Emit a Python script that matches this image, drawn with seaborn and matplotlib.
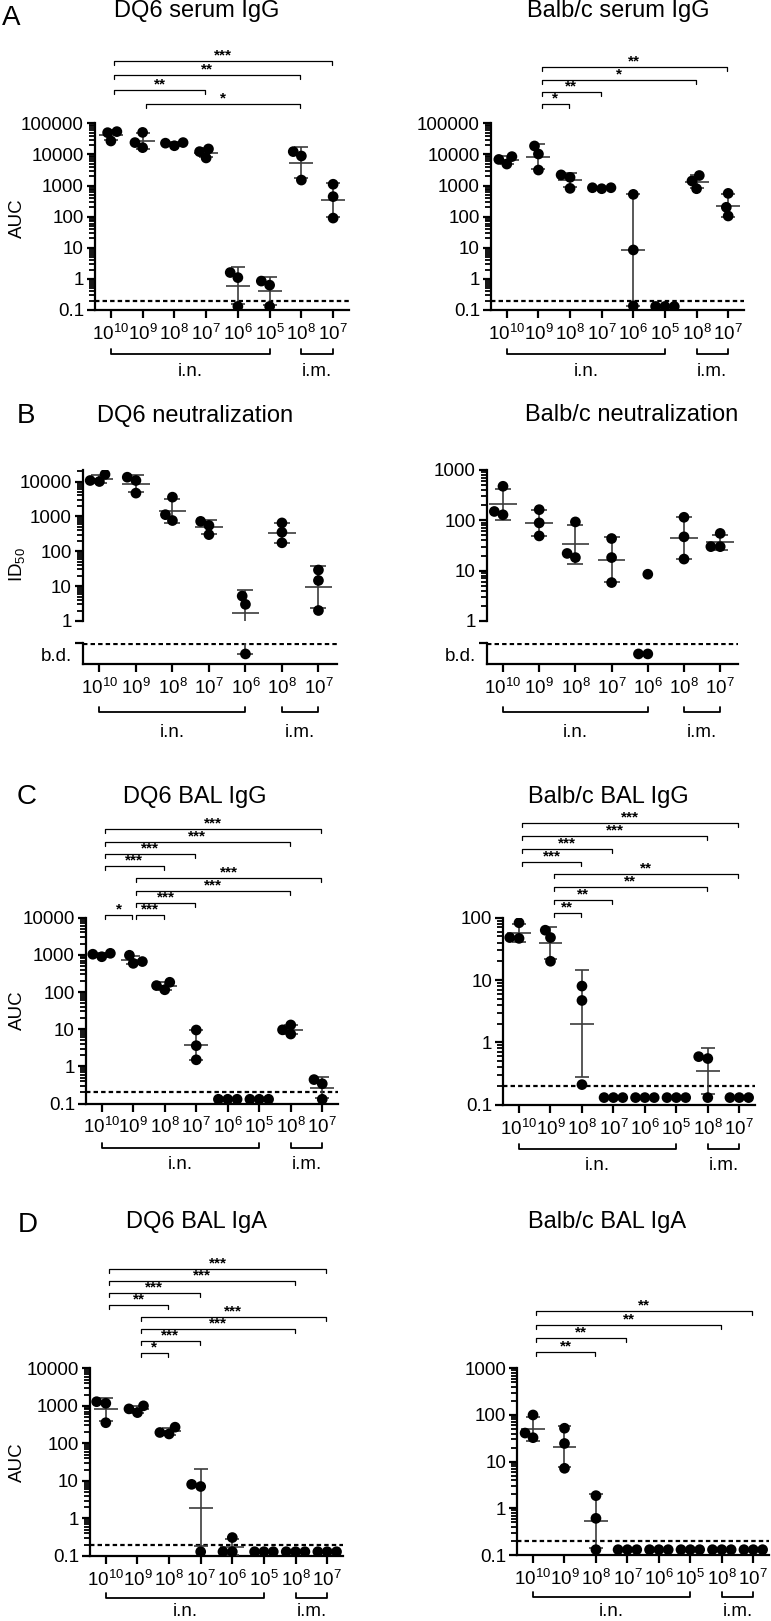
# %%
# ===  Load modules ===
import numpy as np
import pandas as pd
import seaborn as sns
import matplotlib
matplotlib.use('Agg')
import matplotlib.pyplot as plt
import matplotlib.patheffects as pe
from matplotlib import transforms as mtrans
from matplotlib.ticker import FixedLocator, FixedFormatter, LogLocator, NullFormatter

# %%
# ===  Data ===
DOSES_8 = [r'$10^{10}$', r'$10^{9}$', r'$10^{8}$', r'$10^{7}$', r'$10^{6}$', r'$10^{5}$', r'$10^{8}$', r'$10^{7}$']
DOSES_7 = [r'$10^{10}$', r'$10^{9}$', r'$10^{8}$', r'$10^{7}$', r'$10^{6}$', r'$10^{8}$', r'$10^{7}$']
ROUTES_8 = [('i.n.', 0, 5), ('i.m.', 6, 7)]
ROUTES_7 = [('i.n.', 0, 4), ('i.m.', 5, 6)]
LOD = 0.2

# serum IgG (AUC)
A_DQ6 = [[54000, 27000, 50000], [16500, 51000, 24000], [19000, 24000, 23000], [15000, 7700, 12300],
         [1.6, 1.1, 0.13], [0.85, 0.63, 0.13], [12300, 8900, 1500], [1100, 440, 90]]
A_BALB = [[4900, 8500, 6900], [18700, 10300, 3150], [2200, 810, 1830], [790, 850, 850],
          [520, 8.5, 0.135], [0.13, 0.13, 0.13], [2100, 790, 1400], [560, 200, 105]]
# neutralization (ID50), values < 1 are below detection, 0 = not detected
B_DQ6 = [[10000, 16000, 10700], [13300, 4650, 10700], [760, 3560, 1120], [720, 300, 550],
         [5.2, 3.0, 0.3], [650, 350, 175], [29, 14.5, 2.0]]
B_BALB = [[129, 475, 150], [163, 89, 49], [18.2, 93, 22], [43.5, 18.2, 5.8],
          [8.5, 0, 0], [115, 47, 17], [30, 55, 30]]
# BAL IgG (AUC)
C_DQ6 = [[890, 1100, 1040], [975, 590, 660], [115, 183, 149], [9.5, 3.6, 1.5],
         [0.13, 0.13, 0.13], [0.13, 0.13, 0.13], [13, 7.4, 9.6], [0.44, 0.34, 0.13]]
C_BALB = [[46.6, 83, 48], [63, 20, 48], [8, 4.7, 0.21], [0.13, 0.13, 0.13],
          [0.13, 0.13, 0.13], [0.13, 0.13, 0.13], [0.59, 0.55, 0.13], [0.13, 0.13, 0.13]]
# BAL IgA (AUC)
D_DQ6 = [[1290, 355, 1170], [660, 1000, 830], [178, 270, 195], [8.1, 7.1, 0.13],
         [0.31, 0.13, 0.13], [0.13, 0.13, 0.13], [0.13, 0.13, 0.13], [0.13, 0.13, 0.13]]
D_BALB = [[32.6, 100, 41], [52, 24.5, 7.2], [1.87, 0.61, 0.13], [0.13, 0.13, 0.13],
          [0.13, 0.13, 0.13], [0.13, 0.13, 0.13], [0.13, 0.13, 0.13], [0.13, 0.13, 0.13]]

# significance comparisons (group i, group j, label) and their stacking level
A_DQ6_SIG = [(1, 6, '*'), (0, 3, '**'), (0, 6, '**'), (0, 7, '***')]
A_DQ6_LVL = [0, 1, 2, 3]
A_BALB_SIG = [(1, 2, '*'), (1, 3, '**'), (1, 6, '*'), (1, 7, '**')]
A_BALB_LVL = [0, 1, 2, 3]
C_DQ6_SIG = [(0, 1, '*'), (1, 2, '***'), (1, 3, '***'), (1, 6, '***'), (1, 7, '***'),
             (0, 2, '***'), (0, 3, '***'), (0, 6, '***'), (0, 7, '***')]
C_DQ6_LVL = [0, 0, 1, 2, 3, 4, 5, 6, 7]
C_BALB_SIG = [(1, 2, '**'), (1, 3, '**'), (1, 6, '**'), (1, 7, '**'),
              (0, 2, '***'), (0, 3, '***'), (0, 6, '***'), (0, 7, '***')]
C_BALB_LVL = [0, 1, 2, 3, 4, 5, 6, 7]
D_DQ6_SIG = [(1, 2, '*'), (1, 3, '***'), (1, 6, '***'), (1, 7, '***'),
             (0, 2, '**'), (0, 3, '***'), (0, 6, '***'), (0, 7, '***')]
D_DQ6_LVL = [0, 1, 2, 3, 4, 5, 6, 7]
D_BALB_SIG = [(0, 2, '**'), (0, 3, '**'), (0, 6, '**'), (0, 7, '**')]
D_BALB_LVL = [0, 1, 2, 3]

# %%
# ===  Parameters ===
W, H, DPI = 771, 1621, 100
PT_SIZE = 6.4        # size used for the swarm spacing
PT_STROKE = 1.3      # extra outline so neighbouring dots overlap a little
LINE_C = '#3c3c3c'
SPINE_LW = 1.6
TICK_FS = 13.5
XTICK_FS = 13.5
TITLE_FS = 17
LETTER_FS = 20
ROUTE_FS = 13.5
STAR_FS = 11
BD_Y = 0.48

sns.set_theme(style='ticks')
plt.rcParams['font.family'] = ['Liberation Sans', 'DejaVu Sans']
plt.rcParams.update({
    'mathtext.fontset': 'custom',
    'mathtext.rm': 'Liberation Sans',
    'mathtext.it': 'Liberation Sans:italic',
    'mathtext.bf': 'Liberation Sans:bold',
    'text.color': 'black',
    'axes.edgecolor': 'black',
    'axes.labelcolor': 'black',
    'xtick.color': 'black',
    'ytick.color': 'black',
})

fig = plt.figure(figsize=(W / DPI, H / DPI), dpi=DPI)


def add_axes_px(left, top, right, bottom):
    return fig.add_axes([left / W, 1 - bottom / H, (right - left) / W, (bottom - top) / H])


def long_df(groups):
    rows = [(i, v) for i, vals in enumerate(groups) for v in vals]
    return pd.DataFrame(rows, columns=['group', 'value'])


def geo_stats(vals):
    v = np.array([x for x in vals if x > 0], dtype=float)
    lv = np.log(v)
    gm = np.exp(lv.mean())
    gsd = np.exp(lv.std(ddof=1)) if len(v) > 1 else np.nan
    return gm, gsd


def style_axes(ax):
    ax.spines[['top', 'right']].set_visible(False)
    for s in ['left', 'bottom']:
        ax.spines[s].set_linewidth(SPINE_LW)
    ax.tick_params(which='major', length=6, width=SPINE_LW, labelsize=TICK_FS, pad=2)
    ax.tick_params(which='minor', length=4.5, width=1.3)
    ax.tick_params(axis='x', pad=4, labelsize=XTICK_FS)
    ax.set_xlabel('')
    ax.set_ylabel('')


def log_yaxis(ax, lo, hi):
    ax.set_yscale('log')
    ax.set_ylim(lo, hi)
    k0 = int(np.round(np.log10(lo)))
    k1 = int(np.floor(np.log10(hi) + 1e-9))
    decades = [10.0 ** k for k in range(k0, k1 + 1)]
    ax.yaxis.set_major_locator(FixedLocator(decades))
    ax.yaxis.set_major_formatter(FixedFormatter([f'{d:g}' for d in decades]))
    ax.yaxis.set_minor_locator(LogLocator(base=10, subs=np.arange(2, 10), numticks=60))
    ax.yaxis.set_minor_formatter(NullFormatter())


def swarm(ax, groups, n):
    df = long_df(groups)
    n_before = len(ax.collections)
    sns.swarmplot(data=df, x='group', y='value', order=list(range(n)), ax=ax,
                  color='black', size=PT_SIZE, linewidth=0, zorder=4, legend=False)
    for coll in ax.collections[n_before:]:
        coll.set_path_effects([pe.Stroke(linewidth=PT_STROKE, foreground='black'), pe.Normal()])


def mean_sd(ax, groups, lw=1.2):
    for i, vals in enumerate(groups):
        gm, gsd = geo_stats(vals)
        if np.isnan(gsd):
            continue
        lo, hi = gm / gsd, gm * gsd
        ax.hlines(gm, i - 0.38, i + 0.38, color=LINE_C, lw=lw, zorder=3)
        ax.vlines(i, lo, hi, color=LINE_C, lw=lw, zorder=3)
        ax.hlines([lo, hi], i - 0.22, i + 0.22, color=LINE_C, lw=lw, zorder=3)


def sig_brackets(ax, comps, levels, base_px, step_px):
    tr = mtrans.blended_transform_factory(ax.transData, ax.transAxes)
    h = ax.bbox.height
    for (i0, i1, lab), lv in zip(comps, levels):
        y = 1 + (base_px + lv * step_px) / h
        yd = y - 4 / h
        x0, x1 = i0 + 0.1, i1 - 0.03
        ax.plot([x0, x0, x1, x1], [yd, y, y, yd], transform=tr, color='black',
                lw=0.9, clip_on=False)
        ax.text((x0 + x1) / 2, y - 1.5 / h, lab, transform=tr, ha='center',
                va='bottom', fontsize=STAR_FS, fontweight='bold')


def route_brackets(ax, routes, line_px, text_px):
    tr = mtrans.blended_transform_factory(ax.transData, ax.transAxes)
    h = ax.bbox.height
    for lab, i0, i1 in routes:
        y = -line_px / h
        yt = y + 5 / h
        ax.plot([i0, i0, i1, i1], [yt, y, y, yt], transform=tr, color='black',
                lw=1.3, clip_on=False)
        ax.text((i0 + i1) / 2, -text_px / h, lab, transform=tr, ha='center',
                va='center', fontsize=ROUTE_FS)


def fig_text(x, y, s, **kw):
    fig.text(x / W, 1 - y / H, s, **kw)


def auc_panel(rect, groups, ylim, comps, levels, base_px, step_px, route_px=(44, 61)):
    ax = add_axes_px(*rect)
    n = len(groups)
    log_yaxis(ax, *ylim)
    swarm(ax, groups, n)
    mean_sd(ax, groups)
    ax.axhline(LOD, color='black', ls=(0, (2.0, 1.4)), lw=1.6, zorder=2)
    style_axes(ax)
    log_yaxis(ax, *ylim)
    ax.set_xlim(-0.5, n - 0.5)
    ax.set_xticks(range(n))
    ax.set_xticklabels(DOSES_8)
    sig_brackets(ax, comps, levels, base_px, step_px)
    route_brackets(ax, ROUTES_8, *route_px)
    return ax


def neut_panel(rect_top, rect_low, groups, ylim):
    ax = add_axes_px(*rect_top)
    axl = add_axes_px(*rect_low)
    n = len(groups)
    above = [[v for v in g if v >= ylim[0]] for g in groups]
    below = [[BD_Y for v in g if v < ylim[0]] for g in groups]

    log_yaxis(ax, *ylim)
    swarm(ax, above, n)
    mean_sd(ax, groups)
    style_axes(ax)
    log_yaxis(ax, *ylim)
    ax.set_xlim(-0.45, n - 0.5)
    ax.spines['bottom'].set_visible(False)
    ax.tick_params(axis='x', which='both', bottom=False, labelbottom=False)

    swarm(axl, below, n)
    # error bar parts that reach below the detection limit
    for i, vals in enumerate(groups):
        gm, gsd = geo_stats(vals)
        if not np.isnan(gsd) and gm / gsd < ylim[0]:
            axl.vlines(i, BD_Y, 1.0, color=LINE_C, lw=1.2, zorder=3)
            axl.hlines(BD_Y, i - 0.22, i + 0.22, color=LINE_C, lw=1.2, zorder=3)
    axl.axhline(0.96, color='black', ls=(0, (2.0, 1.4)), lw=1.6, zorder=2)
    style_axes(axl)
    axl.set_ylim(0, 1)
    axl.set_xlim(-0.45, n - 0.5)
    axl.set_yticks([0.44])
    axl.set_yticklabels(['b.d.'])
    axl.tick_params(axis='y', which='major', length=0, pad=8)
    axl.set_yticks([1.0], minor=True)
    axl.tick_params(axis='y', which='minor', length=6, width=SPINE_LW)
    axl.set_xticks(range(n))
    axl.set_xticklabels(DOSES_7)
    route_brackets(axl, ROUTES_7, 48, 68)
    return ax, axl


# %%
# === A: serum IgG ===
auc_panel((95, 123.3, 349, 310), A_DQ6, (0.1, 1e5), A_DQ6_SIG, A_DQ6_LVL, 19, 14.5)
auc_panel((491, 123.3, 744, 310), A_BALB, (0.1, 1e5), A_BALB_SIG, A_BALB_LVL, 19, 12.3)

# === B: neutralization ===
neut_panel((83, 470, 336.7, 621), (83, 642.7, 336.7, 664.3), B_DQ6, (1, 21400))
neut_panel((486.7, 470, 738.3, 621), (486.7, 642.7, 738.3, 664.3), B_BALB, (1, 1000))

# === C: BAL IgG ===
auc_panel((86, 917.7, 338, 1103.5), C_DQ6, (0.1, 1e4), C_DQ6_SIG, C_DQ6_LVL, 2.4, 12.3)
auc_panel((503.3, 917.7, 755, 1104.7), C_BALB, (0.1, 100), C_BALB_SIG, C_BALB_LVL, 5, 12.8)

# === D: BAL IgA ===
auc_panel((90, 1368.3, 343, 1556), D_DQ6, (0.1, 1e4), D_DQ6_SIG, D_DQ6_LVL, 15, 12.1, (42, 56))
auc_panel((517.3, 1368.3, 769, 1555), D_BALB, (0.1, 1000), D_BALB_SIG, D_BALB_LVL, 16, 13.9, (42, 56))

# === titles, panel letters, y labels ===
titles = [('DQ6 serum IgG', 197, 16.7), ('Balb/c serum IgG', 618, 16.7),
          ('DQ6 neutralization', 195, 421.7), ('Balb/c neutralization', 632, 421),
          ('DQ6 BAL IgG', 195, 802.7), ('Balb/c BAL IgG', 608, 802.7),
          ('DQ6 BAL IgA', 196, 1228.3), ('Balb/c BAL IgA', 607, 1228.3)]
for s, x, y in titles:
    fig_text(x, y, s, ha='center', va='baseline', fontsize=TITLE_FS)

letters = [('A', 2, 25), ('B', 17, 423.3), ('C', 17, 804.3), ('D', 18, 1231.7)]
for s, x, y in letters:
    fig_text(x, y, s, ha='left', va='baseline', fontsize=LETTER_FS)

ylabels = [('AUC', 218), (r'ID$_{50}$', 565), ('AUC', 1010), ('AUC', 1462)]
for s, y in ylabels:
    fig_text(17, y, s, ha='center', va='center', rotation=90, fontsize=TICK_FS)

fig.savefig('out.png', dpi=DPI)
